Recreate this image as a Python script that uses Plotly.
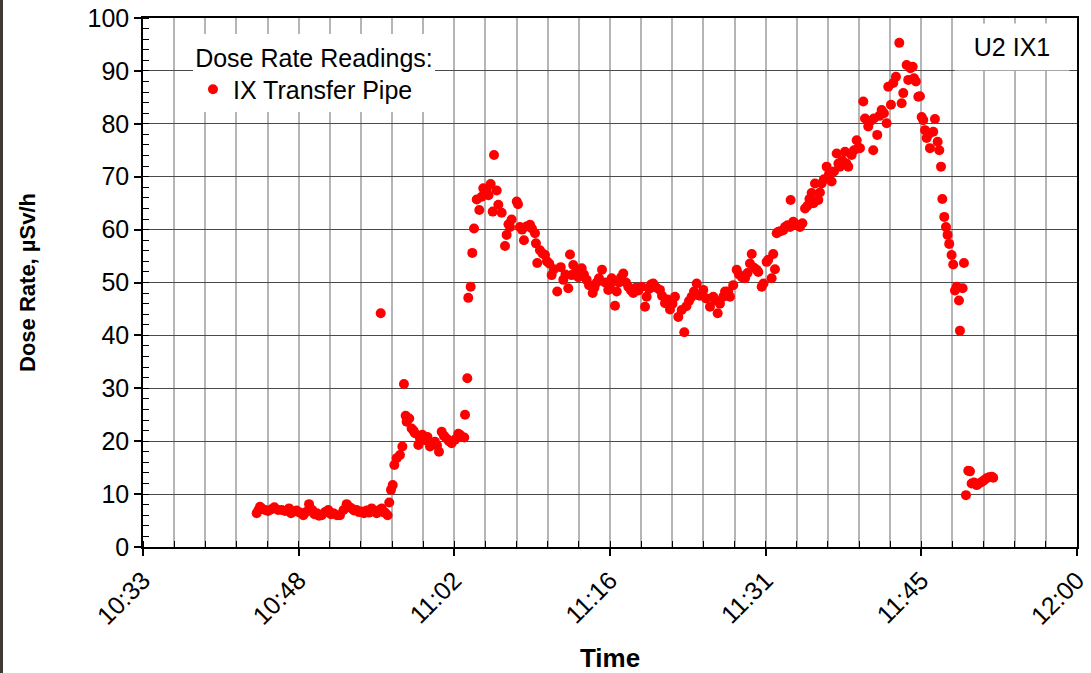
import plotly.graph_objects as go
from datetime import datetime, timedelta

# Reading times, in minutes after 10:00
time_min_after_10 = [
    44.12, 44.28, 44.42, 44.65, 44.89, 45.16, 45.44, 45.75, 46.09, 46.43,
    46.74, 47.11, 47.29, 47.57, 47.82, 48.12, 48.43, 48.68, 48.96, 49.26,
    49.46, 49.67, 49.88, 50.13, 50.44, 50.74, 50.99, 51.20, 51.55, 51.82,
    52.15, 52.44, 52.66, 52.90, 53.12, 53.37, 53.58, 53.83, 54.04, 54.29,
    54.51, 54.75, 54.97, 55.22, 55.38, 55.59, 55.68, 55.85, 55.99, 56.23,
    56.38, 56.54, 56.70, 56.85, 57.07, 57.37, 57.59, 57.74, 57.90, 57.99,
    58.23, 58.45, 58.62, 58.76, 59.07, 59.22, 59.44, 59.69, 59.92, 60.15,
    60.38, 60.61, 60.80, 60.98, 61.23, 61.44, 61.69, 61.91, 62.15, 62.46,
    62.77, 62.92, 63.11, 63.32, 63.39, 63.60, 63.69, 63.91, 64.06, 64.22,
    64.47, 64.71, 64.93, 65.08, 65.39, 65.56, 65.76, 65.95, 66.07, 66.32,
    66.47, 66.78, 67.09, 67.24, 67.41, 67.55, 67.70, 68.17, 68.29, 68.47,
    68.66, 68.84, 69.07, 69.40, 69.58, 69.86, 69.95, 70.07, 70.32, 70.55,
    70.79, 70.97, 71.18, 71.40, 71.62, 71.92, 72.24, 72.48, 72.68, 72.94,
    73.10, 73.25, 73.40, 73.65, 73.88, 74.18, 74.39, 74.64, 74.86, 75.20,
    75.36, 75.57, 75.78, 76.06, 76.34, 76.64, 76.80, 76.95, 77.26, 77.42,
    77.63, 77.82, 78.03, 78.28, 78.49, 78.74, 78.95, 79.20, 79.43, 79.73,
    80.04, 80.19, 80.41, 80.59, 80.80, 81.10, 81.42, 81.61, 81.89, 82.12,
    82.35, 82.58, 82.81, 83.12, 83.43, 83.67, 83.87, 84.11, 84.35, 84.57,
    84.82, 85.08, 85.43, 85.68, 86.05, 86.35, 86.51, 86.76, 86.97, 87.28,
    87.44, 87.74, 87.90, 88.20, 88.52, 88.73, 89.01, 89.29, 89.52, 89.75,
    89.91, 90.12, 90.37, 90.52, 90.83, 91.00, 91.29, 91.44, 91.75, 91.90,
    92.06, 92.22, 92.37, 92.57, 92.83, 92.99, 93.22, 93.45, 93.51, 93.75,
    94.00, 94.37, 94.60, 94.84, 95.07, 95.25, 95.45, 95.62, 95.76, 96.07,
    96.22, 96.38, 96.59, 96.84, 97.06, 97.30, 97.52, 97.77, 97.93, 98.07,
    98.30, 98.54, 98.67, 98.84, 99.15, 99.37, 99.62, 99.78, 99.92, 100.23,
    100.39, 100.69, 100.89, 101.15, 101.20, 101.52, 101.73, 101.93, 102.14, 102.39,
    102.54, 102.79, 103.00, 103.25, 103.56, 103.78, 103.93, 104.24, 104.39, 104.59,
    104.80, 104.92, 105.10, 105.32, 105.47, 105.63, 105.78, 105.94, 106.09, 106.26,
    106.40, 106.70, 106.86, 107.11, 107.26, 107.42, 107.54, 107.72, 107.88, 108.03,
    108.18, 108.40, 108.55, 108.71, 108.87, 109.08, 109.17, 109.42, 109.54, 109.73,
    109.94, 110.10, 110.25, 110.47, 110.72, 110.93, 111.18, 111.39, 111.64, 111.86,
    112.11, 112.25,
]

# Dose rate readings, µSv/h
dose_usvh = [
    6.4, 7.0, 7.6, 7.2, 7.0, 6.8, 7.1, 7.5, 7.0, 7.0,
    6.8, 7.3, 6.4, 6.7, 6.9, 6.5, 6.0, 6.6, 8.1, 7.0,
    6.2, 6.4, 5.9, 6.0, 6.6, 7.0, 6.2, 6.4, 6.0, 6.0,
    7.0, 8.1, 7.6, 7.3, 6.9, 7.0, 6.6, 6.7, 6.4, 6.9,
    6.5, 7.3, 6.8, 6.4, 6.9, 44.2, 7.3, 6.6, 6.5, 6.0,
    8.4, 10.8, 11.7, 15.5, 16.8, 17.4, 19.0, 30.8, 24.8, 23.7,
    24.3, 22.4, 22.0, 21.5, 19.3, 20.5, 21.2, 20.2, 20.8, 19.0,
    19.6, 19.9, 19.2, 18.0, 21.8, 21.0, 20.5, 20.0, 19.6, 20.3,
    21.4, 21.2, 20.8, 20.7, 25.0, 31.9, 47.1, 49.2, 55.6, 60.2,
    65.7, 63.7, 66.2, 67.8, 67.5, 66.5, 68.6, 63.4, 74.1, 67.4,
    64.7, 63.2, 56.9, 59.0, 61.0, 60.5, 61.9, 65.3, 64.8, 60.5,
    60.0, 58.0, 60.6, 60.9, 60.2, 59.3, 57.4, 53.7, 56.1, 55.5,
    55.2, 54.0, 53.6, 51.4, 52.5, 48.3, 52.9, 50.5, 51.5, 48.9,
    55.3, 51.4, 53.3, 52.0, 51.0, 52.7, 51.5, 50.5, 49.5, 48.0,
    49.0, 50.0, 50.8, 52.4, 50.0, 48.6, 49.5, 50.8, 45.6, 48.3,
    50.0, 51.0, 51.7, 50.0, 49.2, 48.5, 48.0, 49.0, 48.5, 49.2,
    45.4, 47.3, 48.8, 49.6, 49.8, 49.0, 48.6, 47.5, 46.1, 46.8,
    44.9, 46.0, 47.3, 43.5, 44.8, 40.6, 45.5, 46.5, 47.3, 48.3,
    49.8, 47.5, 48.6, 47.0, 45.4, 47.3, 46.7, 44.2, 46.0, 47.3,
    48.3, 48.3, 47.3, 49.5, 52.4, 51.5, 51.0, 50.8, 51.8, 53.6,
    55.4, 52.8, 52.4, 52.0, 49.2, 49.8, 53.9, 54.3, 50.8, 55.4,
    52.5, 59.3, 59.6, 59.7, 59.9, 60.5, 60.8, 60.5, 65.6, 61.5,
    61.0, 60.5, 61.2, 64.0, 64.5, 65.8, 66.9, 65.0, 68.7, 65.6,
    67.0, 68.7, 69.5, 71.9, 70.5, 69.1, 71.0, 74.4, 72.5, 71.9,
    73.0, 74.7, 72.5, 71.9, 74.1, 75.0, 76.9, 75.5, 75.4, 84.2,
    81.0, 79.5, 80.5, 75.0, 81.0, 77.9, 81.5, 82.6, 82.0, 80.1,
    87.0, 83.6, 87.7, 88.9, 95.3, 83.9, 85.8, 91.1, 88.3, 90.5,
    90.8, 88.6, 88.0, 85.1, 85.2, 81.3, 80.7, 78.8, 77.3, 78.0,
    75.4, 78.5, 80.9, 76.6, 75.0, 71.9, 65.8, 62.4, 60.5, 59.0,
    57.3, 55.2, 53.4, 48.5, 49.2, 46.6, 40.9, 48.9, 53.7, 9.8,
    14.4, 14.3, 12.0, 12.2, 11.7, 12.0, 12.3, 12.6, 13.0, 13.2,
    13.3, 13.1,
]

series_name = "IX Transfer Pipe"
legend_title = "Dose Rate Readings:"
chart_label = "U2 IX1"
x_title = "Time"
y_title = "Dose Rate, µSv/h"

base = datetime(2000, 1, 1, 10, 0, 0)
times = [base + timedelta(minutes=m) for m in time_min_after_10]

FONT = "Liberation Sans, Arial, sans-serif"

fig = go.Figure()
fig.add_trace(go.Scatter(
    x=times, y=dose_usvh, mode="markers", name=series_name,
    marker=dict(color="#FF0000", size=10, line=dict(width=0)),
    showlegend=True,
))

x_start = "2000-01-01 10:33:36"
x_end = "2000-01-01 12:00:00"

fig.update_layout(
    width=1091, height=673,
    margin=dict(l=143, r=14, t=18, b=126),
    paper_bgcolor="white", plot_bgcolor="white",
    font=dict(family=FONT, size=25, color="black"),
    showlegend=True,
    legend=dict(
        x=0.0535, y=0.9696, xanchor="left", yanchor="top",
        bgcolor="white", borderwidth=0,
        font=dict(size=25, family=FONT, color="black"),
        title=dict(text=legend_title, side="top center", font=dict(size=25, family=FONT)),
        tracegroupgap=0, itemwidth=30,
    ),
    xaxis=dict(
        type="date", range=[x_start, x_end],
        tick0=x_start, dtick=864000, tickformat="%H:%M",
        tickangle=-45, ticks="outside", ticklen=7, tickwidth=1.5, tickcolor="black",
        showline=True, linecolor="black", linewidth=1.5, mirror=True,
        showgrid=True, gridcolor="#b5b5b5", gridwidth=1.5,
        minor=dict(dtick=172800, tick0=x_start, ticks="inside", ticklen=6,
                   tickwidth=1.2, tickcolor="black",
                   showgrid=True, gridcolor="#b5b5b5", gridwidth=1.5),
        title=dict(text="<b>" + x_title + "</b>", font=dict(size=26, family=FONT), standoff=26),
        tickfont=dict(size=25, family=FONT),
        zeroline=False, automargin=False,
    ),
    yaxis=dict(
        range=[0, 100], tick0=0, dtick=10,
        ticks="outside", ticklen=7, tickwidth=1.5, tickcolor="black",
        showline=True, linecolor="black", linewidth=1.5, mirror=True,
        showgrid=True, gridcolor="#4a4a4a", gridwidth=1.2,
        minor=dict(dtick=2, ticks="inside", ticklen=6, tickwidth=1.2,
                   tickcolor="black", showgrid=False),
        title=dict(text="<b>" + y_title + "</b>", font=dict(size=22, family=FONT), standoff=46),
        tickfont=dict(size=25, family=FONT),
        zeroline=False, automargin=False,
    ),
    annotations=[dict(
        text=chart_label, xref="paper", yref="paper",
        x=0.93, y=0.9458, xanchor="center", yanchor="middle",
        showarrow=False, bgcolor="white", width=112, height=44,
        font=dict(size=25, family=FONT, color="black"),
    )],
    shapes=[dict(
        type="rect", xref="paper", yref="paper",
        x0=-143/934, x1=-140/934, y0=-126/529, y1=18/529 + 1,
        fillcolor="#3e3a33", line=dict(width=0), layer="above",
    )],
)

fig.write_html("out.html")
